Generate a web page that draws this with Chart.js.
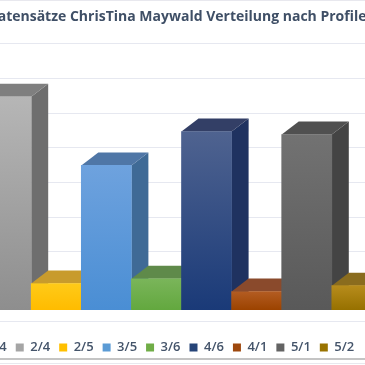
<!DOCTYPE html>
<html>
<head>
<meta charset="utf-8">
<style>
html, body { margin: 0; padding: 0; background: #fff; overflow: hidden; width: 365px; height: 365px; }
#wrap { position: absolute; left: -100px; top: 0; width: 565px; height: 365px; }
</style>
<script src="https://cdn.jsdelivr.net/npm/chart.js@4/dist/chart.umd.min.js"></script>
</head>
<body>
<div id="wrap"><canvas id="profile-chart" width="565" height="365"></canvas></div>
<script>
var chart_title = 'Datensätze ChrisTina Maywald Verteilung nach Profilen';

// first and last category sit outside the crop, their values are guesses
var categories = ['1/4', '2/4', '2/5', '3/5', '3/6', '4/6', '4/1', '5/1', '5/2', '5/3'];
var values = [300, 614, 75, 416, 89, 514, 52, 505, 69, 100];
var grid_ticks = [-33, 67, 167, 267, 367, 467, 567, 667, 767];

var colors_top = ['#3f7fc4', '#b6b6b6', '#ffca18', '#6ea2de', '#7ab55a', '#4f6390', '#b35c22', '#727272', '#b78c1c', '#5b9bd5'];
var colors_bottom = ['#2f6fb4', '#8e8e8e', '#ffbc00', '#4a8ed4', '#63a83f', '#1a3a78', '#9c4300', '#595959', '#977100', '#4a8ad0'];
var colors_side = ['#2c5a8c', '#6e6e6e', '#c89a1e', '#3f6a96', '#55803a', '#1f3260', '#7d3a1c', '#444444', '#6f5510', '#3f6a96'];
var colors_cap = ['#3f6a96', '#7f7f7f', '#c89b2c', '#4f76a6', '#5f8a4a', '#333f66', '#8a4a2c', '#505050', '#8a6c1e', '#4f76a6'];
var colors_legend = ['#264478', '#a5a5a5', '#ffc000', '#5b9bd5', '#70ad47', '#264478', '#9e480e', '#636363', '#997300', '#ffffff'];

var depth_x = 17;
var depth_y = 13;

function BarFill(context) {
    var chart = context.chart;
    if (!chart.scales.y) {
        return colors_bottom[context.dataIndex];
    }
    var top = chart.scales.y.getPixelForValue(values[context.dataIndex]);
    var base = chart.scales.y.getPixelForValue(0);
    var gradient = chart.ctx.createLinearGradient(0, top, 0, base);
    gradient.addColorStop(0, colors_top[context.dataIndex]);
    gradient.addColorStop(1, colors_bottom[context.dataIndex]);
    return gradient;
}

function FillShape(ctx, color, points) {
    ctx.fillStyle = color;
    ctx.beginPath();
    ctx.moveTo(points[0][0], points[0][1]);
    for (var i = 1; i < points.length; i++) {
        ctx.lineTo(points[i][0], points[i][1]);
    }
    ctx.closePath();
    ctx.fill();
}

var frame_plugin = {
    id: 'frame',
    // legend sits a little right of the title in the original
    afterLayout: function (chart) {
        chart.legend.left += 3.5;
        chart.legend.right += 3.5;
    },
    beforeDraw: function (chart) {
        var ctx = chart.ctx;
        ctx.save();
        ctx.fillStyle = '#ffffff';
        ctx.fillRect(0, 0, chart.width, chart.height);
        ctx.fillStyle = '#e8e8ee';
        ctx.fillRect(0, 0, chart.width, 1);
        ctx.fillRect(0, 363, chart.width, 1);
        ctx.fillStyle = '#c4c4c4';
        ctx.fillRect(0, 358, chart.width, 2);
        ctx.restore();
    }
};

// the sides and tops of the columns, taken from the bar elements
var depth_plugin = {
    id: 'depth',
    beforeDatasetsDraw: function (chart) {
        var ctx = chart.ctx;
        var bars = chart.getDatasetMeta(0).data;
        ctx.save();
        bars.forEach(function (bar, i) {
            var left = bar.x - bar.width / 2;
            var right = bar.x + bar.width / 2;
            FillShape(ctx, colors_side[i], [
                [right, bar.y], [right + depth_x, bar.y - depth_y],
                [right + depth_x, bar.base - depth_y], [right, bar.base]
            ]);
            FillShape(ctx, colors_cap[i], [
                [left, bar.y], [left + depth_x, bar.y - depth_y],
                [right + depth_x, bar.y - depth_y], [right, bar.y]
            ]);
        });
        ctx.restore();
    }
};

var ProfileChart = new Chart(document.getElementById('profile-chart'), {
    type: 'bar',
    data: {
        labels: categories,
        datasets: [{
            data: values,
            backgroundColor: BarFill,
            barPercentage: 1,
            categoryPercentage: 1,
            borderWidth: 0
        }]
    },
    plugins: [frame_plugin, depth_plugin],
    options: {
        responsive: false,
        animation: false,
        layout: { padding: { left: 31, right: 33, top: 0, bottom: 1 } },
        plugins: {
            title: {
                display: true,
                text: chart_title,
                color: '#3f4f66',
                font: { family: 'Open Sans', size: 14, weight: 'bold' },
                padding: { top: 9, bottom: 18 }
            },
            legend: {
                display: true,
                position: 'bottom',
                labels: {
                    boxWidth: 8,
                    boxHeight: 8,
                    padding: 9,
                    color: '#44546a',
                    font: { family: 'Open Sans', size: 13, weight: '600' },
                    generateLabels: function () {
                        return categories.map(function (name, i) {
                            return {
                                text: name,
                                fillStyle: colors_legend[i],
                                strokeStyle: colors_legend[i],
                                fontColor: '#44546a',
                                lineWidth: 0,
                                index: i
                            };
                        });
                    }
                }
            },
            tooltip: { enabled: false }
        },
        scales: {
            x: {
                grid: { display: false },
                border: { display: false },
                ticks: { display: false },
                afterFit: function (axis) {
                    axis.height = 11;
                }
            },
            y: {
                min: -33,
                max: 767,
                afterBuildTicks: function (axis) {
                    axis.ticks = grid_ticks.map(function (v) { return { value: v }; });
                },
                grid: { color: '#e6e8f0', lineWidth: 1, drawTicks: false },
                border: { display: false },
                ticks: { display: false }
            }
        }
    }
});
</script>
</body>
</html>
